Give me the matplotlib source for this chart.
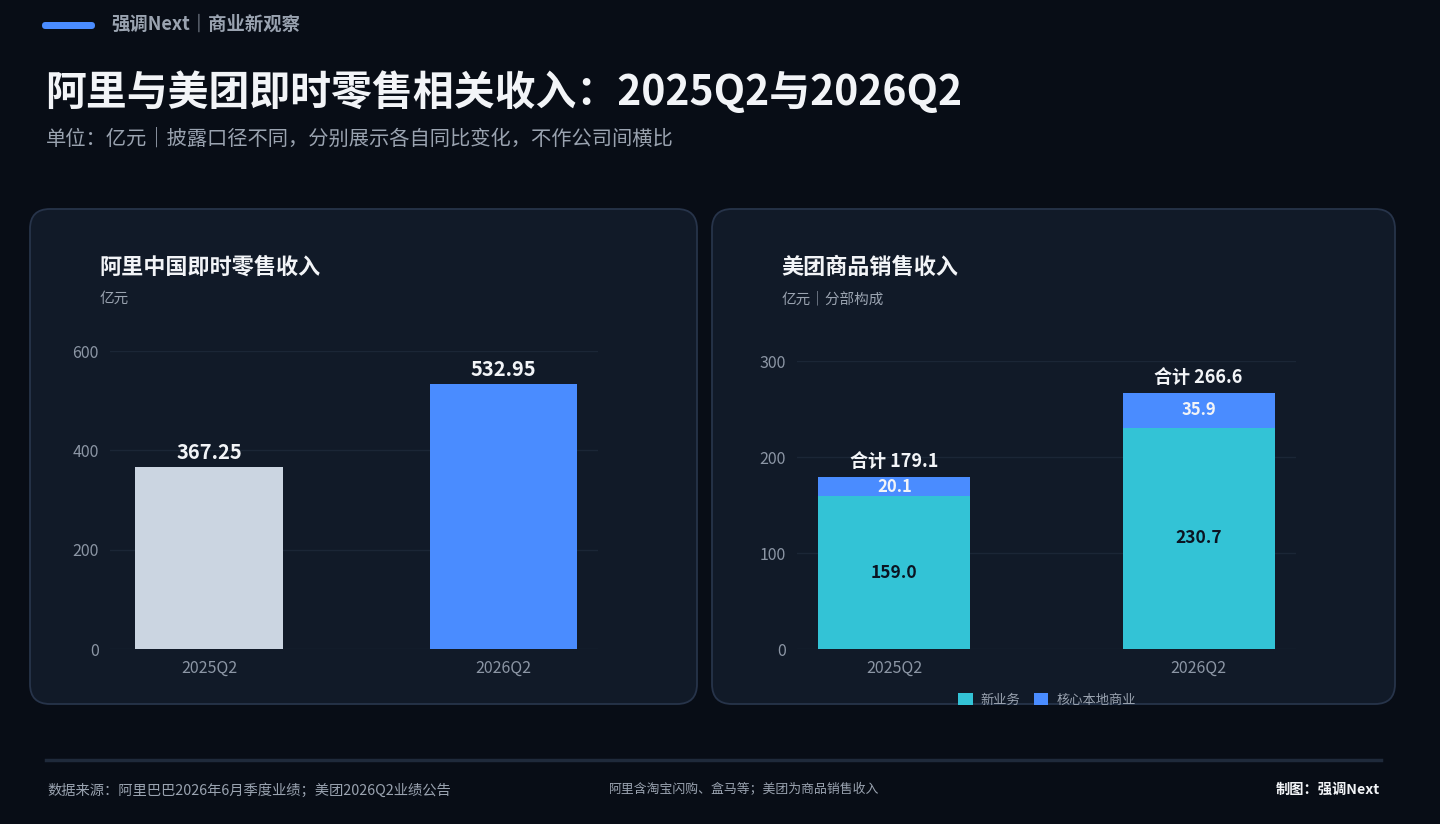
import matplotlib
matplotlib.use("Agg")
import matplotlib.pyplot as plt
from matplotlib.patches import FancyBboxPatch

plt.rcParams['font.family'] = ['Noto Sans CJK SC', 'DejaVu Sans']

# 数据
quarters = ["2025Q2", "2026Q2"]
ali_revenue = [367.25, 532.95]
mt_new_biz = [159.0, 230.7]
mt_core_local = [20.1, 35.9]
mt_total = [179.1, 266.6]
ali_ticks = [0, 200, 400, 600]
mt_ticks = [0, 100, 200, 300]

BG = "#080d16"
PANEL = "#111a28"
EDGE = "#27344a"
GRID = "#1b2636"
TICK = "#8c96a5"
WHITE = "#f2f4f7"
GRAY = "#9aa3b0"
BLUE = "#4a8cff"
TEAL = "#33c3d6"
LIGHT = "#cbd5e1"

W, H = 1440, 824
fig = plt.figure(figsize=(W / 100, H / 100), dpi=100, facecolor=BG)

# 背景层, 用像素坐标
bg = fig.add_axes([0, 0, 1, 1])
bg.set_xlim(0, W)
bg.set_ylim(H, 0)
bg.axis("off")
bg.set_facecolor(BG)

bg.add_patch(FancyBboxPatch((42, 22), 53, 7, boxstyle="round,pad=0,rounding_size=3.5",
                            fc=BLUE, ec="none"))
bg.text(111, 24, "强调Next｜商业新观察", color=GRAY, fontsize=13.2, fontweight="bold", va="center")
bg.text(45, 93, "阿里与美团即时零售相关收入：2025Q2与2026Q2", color=WHITE, fontsize=29.4,
        fontweight="bold", va="center")
bg.text(46, 139, "单位：亿元｜披露口径不同，分别展示各自同比变化，不作公司间横比", color=GRAY,
        fontsize=14.6, va="center")

for (x0, x1) in [(30, 697), (712, 1395)]:
    bg.add_patch(FancyBboxPatch((x0, 209), x1 - x0, 495, boxstyle="round,pad=0,rounding_size=20",
                                fc=PANEL, ec=EDGE, lw=1.3))

bg.text(99, 267, "阿里中国即时零售收入", color=WHITE, fontsize=15.9, fontweight="bold", va="center")
bg.text(100, 299, "亿元", color=GRAY, fontsize=10.5, va="center")
bg.text(781, 267, "美团商品销售收入", color=WHITE, fontsize=15.9, fontweight="bold", va="center")
bg.text(782, 299, "亿元｜分部构成", color=GRAY, fontsize=10.5, va="center")

# 底部
bg.plot([46, 1381], [760, 760], color="#1f2a3b", lw=2.5)
bg.text(47, 790, "数据来源：阿里巴巴2026年6月季度业绩；美团2026Q2业绩公告", color=GRAY,
        fontsize=10.3, va="center")
bg.text(609, 790, "阿里含淘宝闪购、盒马等；美团为商品销售收入", color=GRAY, fontsize=9.25, va="center")
bg.text(1380, 790, "制图：强调Next", color=WHITE, fontsize=10.3, fontweight="bold",
        va="center", ha="right")


def style_axes(ax, ticks):
    ax.set_facecolor("none")
    for s in ax.spines.values():
        s.set_visible(False)
    ax.set_yticks(ticks)
    ax.grid(axis="y", color=GRID, lw=1)
    ax.set_axisbelow(True)
    ax.tick_params(axis="both", length=0, colors=TICK, labelsize=11.5)
    ax.tick_params(axis="y", pad=8)
    ax.tick_params(axis="x", pad=8)


def px_axes(left, right, top, bottom):
    return fig.add_axes([left / W, 1 - bottom / H, (right - left) / W, (bottom - top) / H])


# 左图: 阿里
ax1 = px_axes(110, 598, 351, 649)
style_axes(ax1, ali_ticks)
x = range(len(quarters))
ax1.bar(x, ali_revenue, width=0.5, color=[LIGHT, BLUE])
ax1.set_xlim(-0.336, 1.321)
ax1.set_ylim(0, 600)
ax1.set_xticks(list(x))
ax1.set_xticklabels(quarters)
for i, v in enumerate(ali_revenue):
    ax1.text(i, v + 8, f"{v:.2f}", ha="center", va="bottom", color=WHITE,
             fontsize=14.5, fontweight="bold", clip_on=False)

# 右图: 美团
ax2 = px_axes(797, 1296, 361, 649)
style_axes(ax2, mt_ticks)
b1 = ax2.bar(x, mt_new_biz, width=0.5, color=TEAL, label="新业务")
b2 = ax2.bar(x, mt_core_local, width=0.5, bottom=mt_new_biz, color=BLUE, label="核心本地商业")
ax2.set_xlim(-0.32, 1.32)
ax2.set_ylim(0, 300)
ax2.set_xticks(list(x))
ax2.set_xticklabels(quarters)
for i in x:
    ax2.text(i, mt_new_biz[i] / 2, f"{mt_new_biz[i]:.1f}", ha="center", va="center",
             color="#0b1422", fontsize=12.5, fontweight="bold")
    ax2.text(i, mt_new_biz[i] + mt_core_local[i] / 2, f"{mt_core_local[i]:.1f}", ha="center",
             va="center", color=WHITE, fontsize=12, fontweight="bold")
    ax2.text(i, mt_total[i] + 6, f"合计 {mt_total[i]:.1f}", ha="center", va="bottom",
             color=WHITE, fontsize=13, fontweight="bold", clip_on=False)

leg = fig.legend(handles=[b1, b2], loc="center", bbox_to_anchor=(1047 / W, 1 - 700 / H),
                 ncol=2, frameon=False, fontsize=9.5, handlelength=1.1, handleheight=1.0,
                 handletextpad=0.6, columnspacing=1.0)
for t in leg.get_texts():
    t.set_color(GRAY)

fig.savefig("out.png", dpi=100, facecolor=BG)
